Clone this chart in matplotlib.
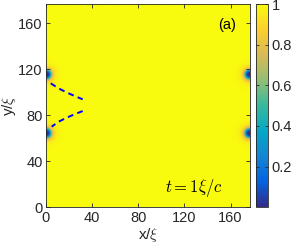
import numpy as np
import matplotlib
matplotlib.use("Agg")
import matplotlib.pyplot as plt
from matplotlib.colors import LinearSegmentedColormap

plt.rcParams['font.family'] = ['Liberation Sans', 'DejaVu Sans']
plt.rcParams['mathtext.fontset'] = 'cm'

# Data
L = 176.8
vortex_x = [0.3, 0.3, 176.5, 176.5]
vortex_y = [115.0, 64.0, 115.0, 64.0]
core = 4.0
upper_curve_x = [4.1, 11.0, 18.5, 25.5, 31.8]
upper_curve_y = [107.8, 103.4, 99.6, 96.5, 93.9]
lower_curve_x = [31.8, 25.5, 18.5, 11.0, 4.9]
lower_curve_y = [83.7, 81.2, 78.2, 74.5, 70.1]
xticks = [0, 40, 80, 120, 160]
yticks = [0, 40, 80, 120, 160]
cbar_ticks = [0.2, 0.4, 0.6, 0.8, 1.0]
cbar_ticklabels = ['0.2', '0.4', '0.6', '0.8', '1']

parula_hex = ['#352A87', '#0363E1', '#1485D4', '#06A7C6', '#38B99E',
              '#92BF73', '#D9BA56', '#FCCE2E', '#F9FB0E']
cmap = LinearSegmentedColormap.from_list('parula', parula_hex)

n = 600
xs = np.linspace(0, L, n)
ys = np.linspace(0, L, n)
X, Y = np.meshgrid(xs, ys)
rho = np.ones_like(X)
for vx, vy in zip(vortex_x, vortex_y):
    r = np.sqrt((X - vx) ** 2 + (Y - vy) ** 2)
    rho *= r ** 4 / (r ** 4 + core ** 4)

fig = plt.figure(figsize=(2.91, 2.49), dpi=100)
ax = fig.add_axes([46 / 291, 1 - 207.3 / 249, 204 / 291, 203.3 / 249])
im = ax.imshow(rho, origin='lower', extent=[0, L, 0, L], cmap=cmap,
               vmin=0, vmax=1, aspect='auto', interpolation='bilinear')
ax.plot(upper_curve_x, upper_curve_y, color='#0000ff', lw=1.4, dashes=(3, 2.2))
ax.plot(lower_curve_x, lower_curve_y, color='#0000ff', lw=1.4, dashes=(3, 2.2))
ax.set_xlim(0, L)
ax.set_ylim(0, L)
ax.set_xticks(xticks)
ax.set_yticks(yticks)
ax.tick_params(direction='in', top=True, right=True, length=3, width=0.6,
               labelsize=10.5, colors='#262626', pad=2.5)
for s in ax.spines.values():
    s.set_color('#262626')
    s.set_linewidth(0.6)
ax.set_xlabel(r'x/$\xi$', fontsize=11, color='#262626', labelpad=1)
ax.set_ylabel(r'y/$\xi$', fontsize=11, color='#262626', labelpad=0)
ax.text(0.93, 0.93, '(a)', transform=ax.transAxes, fontsize=10.5,
        ha='right', va='top', color='#000000')
ax.text(165 / 291, 1 - 188 / 249, r'$t=1\xi/c$', transform=fig.transFigure,
        fontsize=12, ha='left', va='center', color='#000000')

cax = fig.add_axes([256 / 291, 1 - 207.3 / 249, 12.3 / 291, 203.3 / 249])
cb = fig.colorbar(im, cax=cax)
cb.set_ticks(cbar_ticks)
cb.set_ticklabels(cbar_ticklabels)
cax.tick_params(direction='in', length=2.5, width=0.6, labelsize=10.5,
                colors='#262626', pad=2.5, left=True, right=True)
cb.outline.set_edgecolor('#262626')
cb.outline.set_linewidth(0.6)

fig.savefig('out.png', dpi=100)
